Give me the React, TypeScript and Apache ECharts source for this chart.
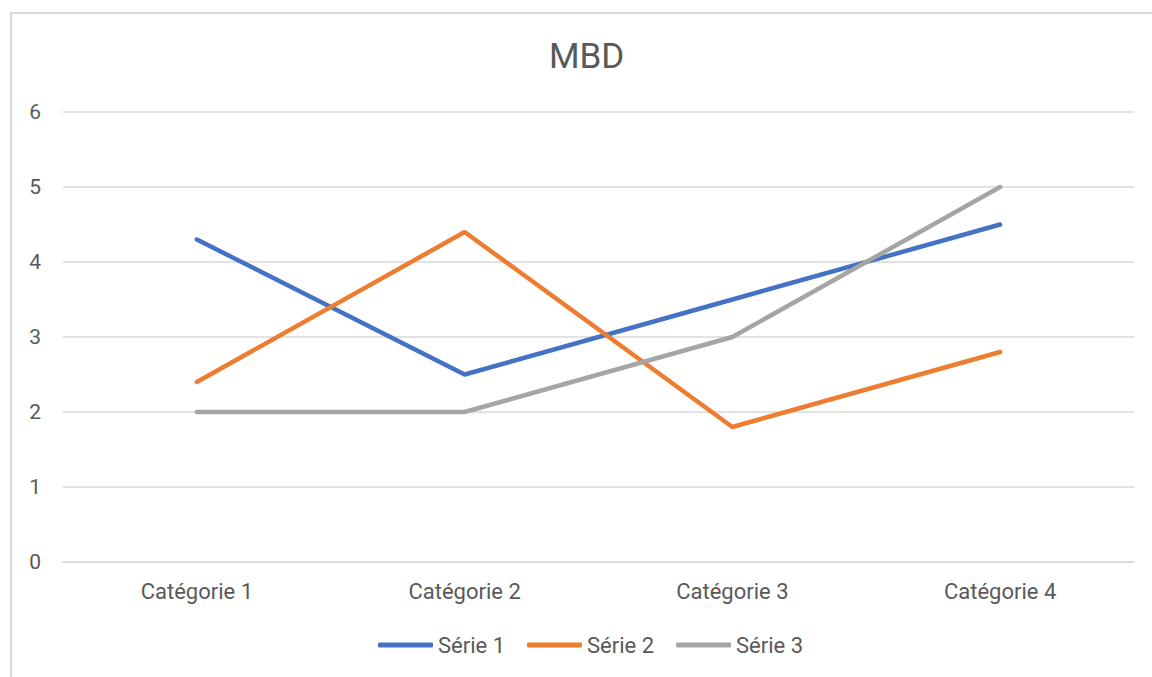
import React, { useEffect, useRef } from "react";
import * as echarts from "echarts";

const categories = ["Catégorie 1", "Catégorie 2", "Catégorie 3", "Catégorie 4"];
const serie1 = [4.3, 2.5, 3.5, 4.5];
const serie2 = [2.4, 4.4, 1.8, 2.8];
const serie3 = [2, 2, 3, 5];
const seriesNames = ["Série 1", "Série 2", "Série 3"];
const colors = ["#4472C4", "#ED7D31", "#A5A5A5"];

export default function App() {
  const ref = useRef<HTMLDivElement>(null);
  useEffect(() => {
    document.body.style.margin = "0";
    const chart = echarts.init(ref.current!, null, { renderer: "svg" });
    const font = "Roboto";
    const data = [serie1, serie2, serie3];
    chart.setOption({
      animation: false,
      backgroundColor: "#ffffff",
      title: {
        text: "MBD",
        left: 544,
        top: 34,
        textStyle: { fontFamily: font, fontSize: 35, fontWeight: "normal", color: "#595959" },
      },
      graphic: [
        {
          type: "rect",
          shape: { x: 11, y: 13, width: 1200, height: 700 },
          style: { fill: "none", stroke: "#D9D9D9", lineWidth: 2 },
          silent: true,
        },
      ],
      legend: {
        data: seriesNames,
        top: 629,
        left: 373,
        icon: "roundRect",
        itemWidth: 55,
        itemHeight: 5,
        itemGap: 22,
        textStyle: { fontFamily: font, fontSize: 22, color: "#595959" },
      },
      grid: { left: 63, right: 18, top: 112, bottom: 115, containLabel: false },
      xAxis: {
        type: "category",
        data: categories,
        boundaryGap: true,
        axisLine: { show: true, lineStyle: { color: "#D9D9D9", width: 1.5 } },
        axisTick: { show: false },
        axisLabel: { fontFamily: font, fontSize: 22, color: "#595959", margin: 18 },
      },
      yAxis: {
        type: "value",
        min: 0,
        max: 6,
        interval: 1,
        axisLine: { show: false },
        axisTick: { show: false },
        splitLine: { lineStyle: { color: "#D9D9D9", width: 1.5 } },
        axisLabel: { fontFamily: font, fontSize: 21, color: "#595959", margin: 22 },
      },
      series: data.map((d, i) => ({
        name: seriesNames[i],
        type: "line",
        data: d,
        symbol: "none",
        lineStyle: { color: colors[i], width: 4.5, cap: "round" },
        itemStyle: { color: colors[i] },
      })),
    });
    return () => chart.dispose();
  }, []);
  return <div ref={ref} style={{ width: 1152, height: 677, position: "absolute", left: 0, top: 0 }} />;
}
